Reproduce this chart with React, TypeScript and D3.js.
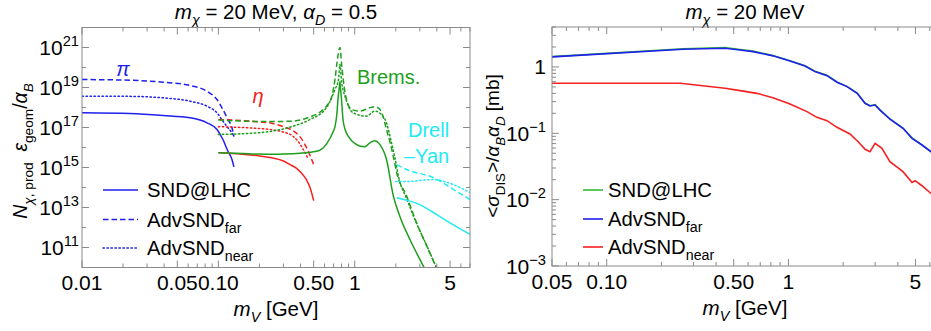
import React from "react";
import * as d3 from "d3";

// ---------------- data (left panel: m_V [GeV] vs N) ----------------
const piMass = [0.01, 0.0225, 0.0393, 0.0619, 0.0825, 0.0977, 0.108, 0.1175, 0.1258, 0.13];
const piSND = [5.4e17, 5.0e17, 4.0e17, 3.05e17, 1.72e17, 7.9e16, 2.5e16, 6.5e15, 2.5e15, 1.08e15];
const piFar = [2.5e19, 2.3e19, 1.84e19, 1.26e19, 6.5e18, 2.5e18, 7.9e17, 2.5e17, 9.7e16, 3.5e16];
const piNear = [3.7e18, 3.6e18, 3.05e18, 2.07e18, 1.16e18, 5.4e17, 2.07e17, 9.7e16, 5.4e16, 3.7e16];

const etaSNDMass = [0.1, 0.15, 0.2, 0.25, 0.3, 0.335, 0.37, 0.4, 0.44, 0.47, 0.5];
const etaSND = [5.4e15, 4.6e15, 3.8e15, 3.0e15, 2.1e15, 1.4e15, 9.5e14, 6.0e14, 2.6e14, 1.0e14, 2.2e13];
const etaFarMass = [0.1, 0.15, 0.2, 0.25, 0.3, 0.35, 0.4, 0.45, 0.5];
const etaFar = [2.5e17, 2.2e17, 1.9e17, 1.6e17, 1.1e17, 7.1e16, 3.2e16, 7.9e15, 1.4e15];
const etaNearMass = [0.1, 0.15, 0.2, 0.25, 0.3, 0.35, 0.38, 0.42, 0.45];
const etaNear = [1.1e17, 1.0e17, 8.9e16, 7.6e16, 5.9e16, 3.8e16, 2.2e16, 7.9e15, 3.2e15];

const bremSNDMass = [0.1, 0.15, 0.2, 0.25, 0.3, 0.4, 0.47, 0.55, 0.625, 0.69, 0.716, 0.74, 0.753, 0.77, 0.779, 0.785, 0.8, 0.82, 0.85, 0.9, 1.0, 1.1, 1.19, 1.29, 1.4, 1.53, 1.71, 1.92, 2.14, 2.54, 3.18, 3.4];
const bremSND = [5.4e15, 5.0e15, 4.7e15, 4.6e15, 4.7e15, 5.2e15, 5.8e15, 7.1e15, 1.6e16, 5.6e16, 1.1e17, 5.0e17, 2.5e18, 1.0e19, 2.0e19, 1.0e19, 2.5e18, 2.5e17, 7.9e16, 3.5e16, 1.6e16, 1.15e16, 1.1e16, 1.7e16, 2.2e16, 1.4e16, 2.5e15, 3.7e13, 3.7e12, 2.5e11, 1.2e10, 5e9];
const bremFarMass = [0.1, 0.2, 0.28, 0.354, 0.47, 0.55, 0.62, 0.68, 0.716, 0.74, 0.779, 0.8, 0.823, 0.87, 0.95, 1.09, 1.29, 1.405, 1.53, 1.61, 1.71, 1.82, 1.915, 2.03, 2.4, 2.84, 3.37, 3.98];
const bremFar = [2.4e17, 2.0e17, 2.0e17, 2.1e17, 3.4e17, 5.6e17, 1.17e18, 3.7e18, 2.5e19, 1.6e20, 1.0e21, 1.6e20, 2.5e19, 2.5e18, 7.9e17, 6.6e17, 9.8e17, 1.1e18, 7.9e17, 3.7e17, 7.9e16, 1.7e16, 3.7e15, 5.5e14, 3.7e13, 1.7e12, 1.2e11, 9e9];
const bremNearMass = [0.1, 0.2, 0.354, 0.47, 0.62, 0.716, 0.76, 0.779, 0.8, 0.82, 0.847, 0.97, 1.22, 1.405, 1.67, 1.86, 1.97, 2.1, 2.4, 2.84, 3.37, 4.0];
const bremNear = [4.5e16, 5.5e16, 1.17e17, 2.5e17, 9.8e17, 7.9e18, 2.5e19, 1.4e20, 2.0e19, 7.9e18, 3.7e18, 5.5e17, 3.7e17, 6.6e17, 2.5e17, 1.7e16, 3.2e15, 3.2e14, 2.8e13, 1.6e12, 1.26e11, 9e9];

const dySNDMass = [2.03, 3.0, 4.0, 5.0, 7.0];
const dySND = [3.1e13, 1.4e13, 4.4e12, 1.7e12, 4.5e11];
const dyFarMass = [2.03, 2.4, 3.74, 5.61, 7.0];
const dyFar = [1.4e15, 7.9e14, 3.2e14, 6.3e13, 2.5e13];
const dyNearMass = [2.0, 2.4, 3.75, 5.27, 7.0];
const dyNear = [2.0e14, 2.0e14, 2.5e14, 1.4e14, 5.5e13];

// ---------------- data (right panel: m_V vs <sigma_DIS>) ----------------
const sigMass = [0.05, 0.263, 0.448, 0.542, 0.638, 0.822, 1.02, 1.234, 1.40, 1.63, 1.85, 2.10, 2.39, 2.64, 2.81, 3.0, 3.19, 3.62, 4.27, 4.79, 5.43, 6.09, 7.0];
const sigSND = [1.43, 1.88, 1.96, 1.83, 1.73, 1.49, 1.24, 1.04, 0.86, 0.75, 0.595, 0.51, 0.405, 0.285, 0.26, 0.27, 0.226, 0.165, 0.12, 0.085, 0.067, 0.053, 0.044];
const sigFar = [1.42, 1.85, 1.91, 1.80, 1.70, 1.47, 1.23, 1.035, 0.85, 0.74, 0.588, 0.505, 0.40, 0.283, 0.258, 0.267, 0.224, 0.163, 0.119, 0.084, 0.0666, 0.0528, 0.044];
const sigNearMass = [0.05, 0.254, 0.448, 0.542, 0.671, 0.822, 1.02, 1.265, 1.435, 1.63, 1.85, 2.18, 2.42, 2.64, 2.81, 3.0, 3.27, 3.62, 4.27, 4.79, 4.98, 5.43, 6.09, 7.0];
const sigNear = [0.568, 0.568, 0.477, 0.44, 0.40, 0.344, 0.277, 0.212, 0.174, 0.155, 0.123, 0.0977, 0.0747, 0.0574, 0.0528, 0.0707, 0.0594, 0.0373, 0.0264, 0.0182, 0.0193, 0.0162, 0.0124, 0.0098];

// ---------------- ticks ----------------
const leftXMajor = [0.01, 0.05, 0.1, 0.5, 1, 5];
const leftXLabels = ["0.01", "0.05", "0.10", "0.50", "1", "5"];
const rightXMajor = [0.05, 0.1, 0.5, 1, 5];
const rightXLabels = ["0.05", "0.10", "0.50", "1", "5"];
const leftYExp = [11, 13, 15, 17, 19, 21];
const rightYExp = [-3, -2, -1, 0];

const BLUE = "#1f1fef";
const RED = "#f52020";
const GREEN = "#1d9f1d";
const GREEN_R = "#35b935";
const CYAN = "#22eaf2";
const FRAME = "#8a8a8a";
const FONT = "'Liberation Sans', Arial, sans-serif";

const DASH = "5.5,3";
const DOT = "1.4,2.6";

type Seg = { t: string; i?: boolean; sub?: boolean; sup?: boolean };

function Rich(props: { segs: Seg[]; x: number; y: number; size: number; anchor?: string; fill?: string; rotate?: boolean }) {
  const { segs, x, y, size, anchor = "start", fill = "#000", rotate = false } = props;
  let cur = 0;
  const spans = segs.map((s, k) => {
    const target = s.sub ? size * 0.3 : s.sup ? -size * 0.42 : 0;
    const dy = target - cur;
    cur = target;
    return (
      <tspan key={k} dy={dy} fontSize={s.sub || s.sup ? size * 0.7 : size} fontStyle={s.i ? "italic" : "normal"}>
        {s.t}
      </tspan>
    );
  });
  return (
    <text x={x} y={y} textAnchor={anchor as any} fill={fill} fontFamily={FONT} fontSize={size}
      style={{ whiteSpace: "pre" }} transform={rotate ? `rotate(-90 ${x} ${y})` : undefined}>
      {spans}
    </text>
  );
}

function decadeMinors(lo: number, hi: number) {
  const out: number[] = [];
  for (let e = Math.floor(Math.log10(lo)); e <= Math.ceil(Math.log10(hi)); e++) {
    for (let k = 1; k <= 9; k++) {
      const v = k * Math.pow(10, e);
      if (v >= lo * 0.9999 && v <= hi * 1.0001) out.push(v);
    }
  }
  return out;
}

export default function App() {
  const W = 931, H = 331;
  const xL = d3.scaleLog().domain([0.01, 7]).range([82, 470]);
  const yL = d3.scaleLog().domain([1e10, 1e22]).range([267.5, 27.5]);
  const xR = d3.scaleLog().domain([0.05, 7]).range([552, 942]);
  const yR = d3.scaleLog().domain([1e-3, 4]).range([266, 27]);

  const lineL = (ms: number[], vs: number[]) =>
    d3.line<number>().x((_, i) => xL(ms[i])).y((v) => yL(v)).curve(d3.curveMonotoneX)(vs) || "";
  const lineR = (ms: number[], vs: number[]) =>
    d3.line<number>().x((_, i) => xR(ms[i])).y((v) => yR(v))(vs) || "";

  const leftCurves = [
    { m: piMass, v: piSND, c: BLUE, d: undefined },
    { m: piMass, v: piFar, c: BLUE, d: DASH },
    { m: piMass, v: piNear, c: BLUE, d: DOT },
    { m: etaSNDMass, v: etaSND, c: RED, d: undefined },
    { m: etaFarMass, v: etaFar, c: RED, d: DASH },
    { m: etaNearMass, v: etaNear, c: RED, d: DOT },
    { m: bremSNDMass, v: bremSND, c: GREEN, d: undefined },
    { m: bremFarMass, v: bremFar, c: GREEN, d: DASH },
    { m: bremNearMass, v: bremNear, c: GREEN, d: DOT },
    { m: dySNDMass, v: dySND, c: CYAN, d: undefined },
    { m: dyFarMass, v: dyFar, c: CYAN, d: DASH },
    { m: dyNearMass, v: dyNear, c: CYAN, d: DOT },
  ];

  const [lx0, lx1] = xL.range();
  const [ly1, ly0] = yL.range();
  const [rx0, rx1] = xR.range();
  const [ry1, ry0] = yR.range();

  const leftXMinor = decadeMinors(0.01, 7).filter((v) => !leftXMajor.some((m) => Math.abs(m - v) / v < 1e-6));
  const rightXMinor = decadeMinors(0.05, 7).filter((v) => !rightXMajor.some((m) => Math.abs(m - v) / v < 1e-6));
  const leftYTicks = d3.range(10, 23).map((e) => Math.pow(10, e));
  const rightYMinor = decadeMinors(1e-3, 4).filter((v) => !rightYExp.some((e) => Math.abs(Math.pow(10, e) - v) / v < 1e-6));

  const TS = 21; // tick font size
  const LS = 20.5; // label/title font size
  const GS = 20.3; // legend font size
  const MAJ = 7, MIN = 4;

  return (
    <svg width={W} height={H} style={{ position: "absolute", left: 0, top: 0, background: "#fff" }}>
      <rect x={0} y={0} width={W} height={H} fill="#fff" />
      <defs>
        <clipPath id="clipL"><rect x={lx0} y={ly0} width={lx1 - lx0} height={ly1 - ly0} /></clipPath>
        <clipPath id="clipR"><rect x={rx0} y={ry0} width={rx1 - rx0} height={ry1 - ry0} /></clipPath>
      </defs>

      {/* ---------------- LEFT PANEL ---------------- */}
      <Rich x={(lx0 + lx1) / 2} y={19} size={LS} anchor="middle"
        segs={[{ t: "m", i: true }, { t: "χ", i: true, sub: true }, { t: " = 20 MeV, " }, { t: "α", i: true }, { t: "D", i: true, sub: true }, { t: " = 0.5" }]} />

      <g clipPath="url(#clipL)">
        {leftCurves.map((c, i) => (
          <path key={i} d={lineL(c.m, c.v)} fill="none" stroke={c.c} strokeWidth={1.5}
            strokeDasharray={c.d} strokeLinecap={c.d === DOT ? "round" : "butt"} />
        ))}
      </g>

      {/* frame */}
      <rect x={lx0} y={ly0} width={lx1 - lx0} height={ly1 - ly0} fill="none" stroke={FRAME} strokeWidth={1} />
      {/* x ticks */}
      {leftXMajor.map((v, i) => (
        <g key={"lxM" + i}>
          <line x1={xL(v)} x2={xL(v)} y1={ly1} y2={ly1 - MAJ} stroke={FRAME} />
          <line x1={xL(v)} x2={xL(v)} y1={ly0} y2={ly0 + MAJ} stroke={FRAME} />
          <text x={xL(v)} y={290} textAnchor="middle" fontFamily={FONT} fontSize={TS}>{leftXLabels[i]}</text>
        </g>
      ))}
      {leftXMinor.map((v, i) => (
        <g key={"lxm" + i}>
          <line x1={xL(v)} x2={xL(v)} y1={ly1} y2={ly1 - MIN} stroke={FRAME} />
          <line x1={xL(v)} x2={xL(v)} y1={ly0} y2={ly0 + MIN} stroke={FRAME} />
        </g>
      ))}
      {/* y ticks */}
      {leftYTicks.map((v, i) => {
        const e = Math.round(Math.log10(v));
        const major = leftYExp.includes(e);
        const len = major ? MAJ : MIN;
        return (
          <g key={"ly" + i}>
            <line x1={lx0} x2={lx0 + len} y1={yL(v)} y2={yL(v)} stroke={FRAME} />
            <line x1={lx1} x2={lx1 - len} y1={yL(v)} y2={yL(v)} stroke={FRAME} />
          </g>
        );
      })}
      {leftYExp.map((e) => (
        <Rich key={"lyl" + e} x={79} y={yL(Math.pow(10, e)) + 7.5} size={TS} anchor="end"
          segs={[{ t: "10" }, { t: String(e), sup: true }]} />
      ))}

      {/* axis labels */}
      <Rich x={(lx0 + lx1) / 2} y={316} size={LS} anchor="middle"
        segs={[{ t: "m", i: true }, { t: "V", i: true, sub: true }, { t: " [GeV]" }]} />
      <Rich x={27} y={151} size={19.5} anchor="middle" rotate
        segs={[{ t: "N", i: true }, { t: "χ", i: true, sub: true }, { t: ", prod", sub: true }, { t: "  " }, { t: "ε", i: true }, { t: "geom", sub: true }, { t: "/" }, { t: "α", i: true }, { t: "B", i: true, sub: true }]} />

      {/* annotations */}
      <text x={123} y={76} textAnchor="middle" fontFamily={FONT} fontSize={20} fontStyle="italic" fill={BLUE}>π</text>
      <text x={258} y={103} textAnchor="middle" fontFamily={FONT} fontSize={20} fontStyle="italic" fill={RED}>η</text>
      <text x={357} y={84} fontFamily={FONT} fontSize={20} fill={GREEN}>Brems.</text>
      <text x={408} y={137} fontFamily={FONT} fontSize={20} fill={CYAN}>Drell</text>
      <text x={404} y={163} fontFamily={FONT} fontSize={20} fill={CYAN}>–Yan</text>

      {/* legend */}
      {[
        { y: 190, d: undefined, segs: [{ t: "SND@LHC" }] },
        { y: 219.5, d: DASH, segs: [{ t: "AdvSND" }, { t: "far", sub: true }] },
        { y: 248, d: DOT, segs: [{ t: "AdvSND" }, { t: "near", sub: true }] },
      ].map((l, i) => (
        <g key={"ll" + i}>
          <line x1={103} x2={138} y1={l.y} y2={l.y} stroke={BLUE} strokeWidth={1.5} strokeDasharray={l.d}
            strokeLinecap={l.d === DOT ? "round" : "butt"} />
          <Rich x={147} y={l.y + 7} size={GS} segs={l.segs as Seg[]} />
        </g>
      ))}

      {/* ---------------- RIGHT PANEL ---------------- */}
      <Rich x={745} y={19} size={LS} anchor="middle"
        segs={[{ t: "m", i: true }, { t: "χ", i: true, sub: true }, { t: " = 20 MeV" }]} />

      <g clipPath="url(#clipR)">
        <path d={lineR(sigMass, sigSND)} fill="none" stroke={GREEN_R} strokeWidth={1.6} />
        <path d={lineR(sigMass, sigFar)} fill="none" stroke={BLUE} strokeWidth={1.6} />
        <path d={lineR(sigNearMass, sigNear)} fill="none" stroke={RED} strokeWidth={1.6} />
      </g>

      <rect x={rx0} y={ry0} width={rx1 - rx0} height={ry1 - ry0} fill="none" stroke={FRAME} strokeWidth={1} />
      {rightXMajor.map((v, i) => (
        <g key={"rxM" + i}>
          <line x1={xR(v)} x2={xR(v)} y1={ry1} y2={ry1 - MAJ} stroke={FRAME} />
          <line x1={xR(v)} x2={xR(v)} y1={ry0} y2={ry0 + MAJ} stroke={FRAME} />
          <text x={xR(v)} y={289} textAnchor="middle" fontFamily={FONT} fontSize={TS}>{rightXLabels[i]}</text>
        </g>
      ))}
      {rightXMinor.map((v, i) => (
        <g key={"rxm" + i}>
          <line x1={xR(v)} x2={xR(v)} y1={ry1} y2={ry1 - MIN} stroke={FRAME} />
          <line x1={xR(v)} x2={xR(v)} y1={ry0} y2={ry0 + MIN} stroke={FRAME} />
        </g>
      ))}
      {rightYExp.map((e) => (
        <g key={"ryM" + e}>
          <line x1={rx0} x2={rx0 + MAJ} y1={yR(Math.pow(10, e))} y2={yR(Math.pow(10, e))} stroke={FRAME} />
          {e === 0 ? (
            <text x={546} y={yR(1) + 7.5} textAnchor="end" fontFamily={FONT} fontSize={TS}>1</text>
          ) : (
            <Rich x={546} y={yR(Math.pow(10, e)) + 7.5} size={TS} anchor="end"
              segs={[{ t: "10" }, { t: "−" + String(-e), sup: true }]} />
          )}
        </g>
      ))}
      {rightYMinor.map((v, i) => (
        <line key={"rym" + i} x1={rx0} x2={rx0 + MIN} y1={yR(v)} y2={yR(v)} stroke={FRAME} />
      ))}

      <Rich x={745} y={315} size={LS} anchor="middle"
        segs={[{ t: "m", i: true }, { t: "V", i: true, sub: true }, { t: " [GeV]" }]} />
      <Rich x={499} y={146} size={19} anchor="middle" rotate
        segs={[{ t: "<" }, { t: "σ", i: true }, { t: "DIS", sub: true }, { t: ">/" }, { t: "α", i: true }, { t: "B", i: true, sub: true }, { t: "α", i: true }, { t: "D", i: true, sub: true }, { t: " [mb]" }]} />

      {[
        { y: 190, c: GREEN_R, segs: [{ t: "SND@LHC" }] },
        { y: 219, c: BLUE, segs: [{ t: "AdvSND" }, { t: "far", sub: true }] },
        { y: 247, c: RED, segs: [{ t: "AdvSND" }, { t: "near", sub: true }] },
      ].map((l, i) => (
        <g key={"rl" + i}>
          <line x1={583} x2={603} y1={l.y} y2={l.y} stroke={l.c} strokeWidth={1.6} />
          <Rich x={608} y={l.y + 7} size={GS} segs={l.segs as Seg[]} />
        </g>
      ))}
    </svg>
  );
}
